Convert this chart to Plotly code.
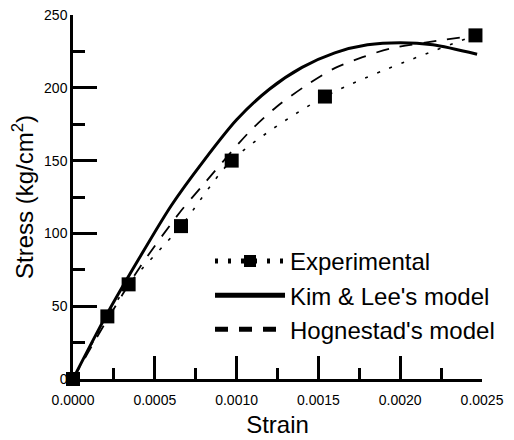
import plotly.graph_objects as go

# Experimental data
exp_strain = [0.0, 0.00021, 0.00034, 0.00066, 0.00097, 0.00154, 0.00246]
exp_stress = [0, 43, 65, 105, 150, 194, 236]

# Kim & Lee's model
kl_strain = [0.0, 0.0002, 0.0004, 0.0006, 0.0008, 0.0010, 0.0012, 0.0014, 0.0016, 0.0018, 0.0020, 0.0022, 0.00247]
kl_stress = [0, 43, 82, 119, 150, 178, 199, 214, 224, 229.5, 231, 229.5, 223]

# Hognestad's model
hg_strain = [0.0, 0.0002, 0.00041, 0.00065, 0.0008, 0.00108, 0.001245, 0.00143, 0.0016, 0.00177, 0.00194, 0.00227, 0.00246]
hg_stress = [0, 39, 77, 114, 134, 170, 187, 202, 213.5, 221, 227, 233, 236]

font_family = "Arial, Liberation Sans, sans-serif"

fig = go.Figure()
fig.add_trace(go.Scatter(
    x=exp_strain, y=exp_stress, name="Experimental",
    mode="lines+markers",
    line=dict(color="black", width=1.6, dash="3px,10px", shape="spline", smoothing=0.8),
    marker=dict(symbol="square", size=14, color="black"),
    cliponaxis=False,
))
fig.add_trace(go.Scatter(
    x=kl_strain, y=kl_stress, name="Kim & Lee's model",
    mode="lines",
    line=dict(color="black", width=3, shape="spline", smoothing=0.8),
    cliponaxis=False,
))
fig.add_trace(go.Scatter(
    x=hg_strain, y=hg_stress, name="Hognestad's model",
    mode="lines",
    line=dict(color="black", width=1.8, dash="13px,11px", shape="spline", smoothing=0.8),
    cliponaxis=False,
))

fig.update_layout(
    width=506, height=432,
    margin=dict(l=65, r=32, t=7, b=61),
    paper_bgcolor="white", plot_bgcolor="white",
    font=dict(family=font_family, color="black"),
    showlegend=True,
    legend=dict(
        x=0.335, y=0.385, xanchor="left", yanchor="top",
        font=dict(size=24, family=font_family, color="black"),
        bgcolor="rgba(0,0,0,0)", itemwidth=70,
        tracegroupgap=0, itemsizing="constant",
    ),
    xaxis=dict(
        range=[0, 0.0025], dtick=0.0005, tick0=0, tickformat=".4f",
        automargin=False,
        showgrid=False, zeroline=False,
        showline=True, linecolor="black", linewidth=2.5,
        ticks="inside", ticklen=23, tickwidth=2.5, tickcolor="black",
        minor=dict(dtick=0.00025, ticks="inside", ticklen=11, tickwidth=2.5, tickcolor="black"),
        tickfont=dict(size=14), ticklabelstandoff=6, ticklabeloverflow="allow",
        title=dict(text="Strain", font=dict(size=24), standoff=10),
    ),
    yaxis=dict(
        range=[0, 250], dtick=50, tick0=0,
        automargin=False,
        showgrid=False, zeroline=False,
        showline=True, linecolor="black", linewidth=2.5,
        ticks="inside", ticklen=24, tickwidth=2.5, tickcolor="black",
        minor=dict(dtick=25, ticks="inside", ticklen=12, tickwidth=2.5, tickcolor="black"),
        tickfont=dict(size=14), ticklabeloverflow="allow",
        title=dict(text="Stress (kg/cm<sup>2</sup>)", font=dict(size=24), standoff=6),
    ),
)

fig.write_html("out.html")
